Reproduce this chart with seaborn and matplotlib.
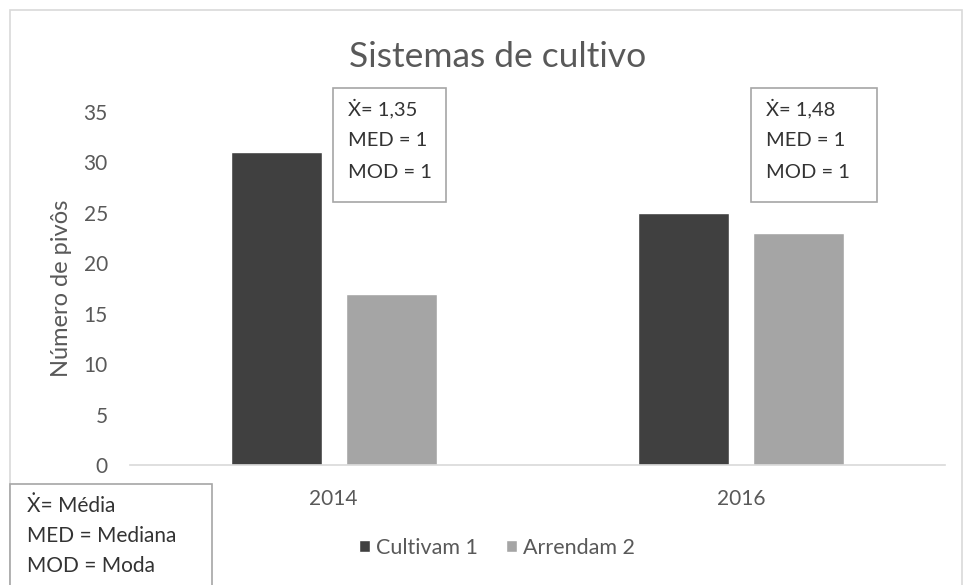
import matplotlib
matplotlib.use("Agg")
import matplotlib.pyplot as plt
from matplotlib.patches import Rectangle
import seaborn as sns
import pandas as pd

# ---- data ----
years = ["2014", "2016"]
series = ["Cultivam 1", "Arrendam 2"]
cultivam = [31, 25]
arrendam = [17, 23]
yticks = [0, 5, 10, 15, 20, 25, 30, 35]
title = "Sistemas de cultivo"
ylabel = "Número de pivôs"
stats_2014 = ["Ẋ= 1,35", "MED = 1", "MOD = 1"]
stats_2016 = ["Ẋ= 1,48", "MED = 1", "MOD = 1"]
key_lines = ["Ẋ= Média", "MED = Mediana", "MOD = Moda"]

df = pd.DataFrame({
    "Ano": years * 2,
    "Série": [series[0]] * 2 + [series[1]] * 2,
    "Valor": cultivam + arrendam,
})

sns.set_theme(style="white")
plt.rcParams["font.family"] = ["Lato", "DejaVu Sans"]
TXT = "#595959"
BOXTXT = "#333333"

W, H = 965, 585
fig = plt.figure(figsize=(W / 100, H / 100), dpi=100)
fig.patch.set_facecolor("white")


def fx(x):
    return x / W


def fy(y):
    return 1 - y / H


# axes area in pixels: left 130, right 945, top 112, bottom 465
ax = fig.add_axes([fx(130), fy(465), fx(945 - 130), (465 - 112) / H])
sns.barplot(data=df, x="Ano", y="Valor", hue="Série", order=years,
            hue_order=series, palette=["#404040", "#a5a5a5"],
            width=0.564, gap=0.209, ax=ax, legend=True, saturation=1)

ax.set_xlim(-0.5, 1.5)
ax.set_ylim(0, 35)
ax.set_yticks(yticks)
ax.set_xlabel("")
ax.set_ylabel(ylabel, fontsize=17, color=TXT, labelpad=8)
ax.tick_params(axis="y", length=0, pad=16, labelsize=15, labelcolor=TXT)
ax.tick_params(axis="x", length=0, pad=17, labelsize=15, labelcolor=TXT)
for s in ["top", "right", "left"]:
    ax.spines[s].set_visible(False)
ax.spines["bottom"].set_color("#d9d9d9")
ax.spines["bottom"].set_linewidth(1.2)

handles, labels = ax.get_legend_handles_labels()
ax.get_legend().remove()
fig.legend(handles, labels, loc="center", bbox_to_anchor=(fx(497), fy(548)),
           ncol=2, frameon=False, fontsize=15.5, labelcolor=TXT,
           handlelength=0.5, handleheight=0.5, handletextpad=0.3,
           columnspacing=1.3)

# title
fig.text(fx(498), fy(57), title, ha="center", va="center", fontsize=25.5,
         color=TXT)

# outer chart frame
fig.patches.append(Rectangle((fx(10), fy(590)), fx(952), (590 - 10) / H,
                             transform=fig.transFigure, fill=False,
                             edgecolor="#d9d9d9", linewidth=1.2))


def stat_box(x0, y0, x1, y1, lines, tx, ty0, dy, fs):
    fig.patches.append(Rectangle((fx(x0), fy(y1)), fx(x1 - x0), (y1 - y0) / H,
                                 transform=fig.transFigure, facecolor="white",
                                 edgecolor="#a6a6a6", linewidth=1.2,
                                 zorder=5))
    for i, t in enumerate(lines):
        fig.text(fx(tx), fy(ty0 + i * dy), t, ha="left", va="center",
                 fontsize=fs, color=BOXTXT, zorder=6)


stat_box(333, 88, 446, 202, stats_2014, 348, 108, 32, 14.5)
stat_box(751, 88, 877, 202, stats_2016, 766, 108, 32, 14.5)
stat_box(10, 484, 212, 600, key_lines, 27, 506, 30, 15)

fig.savefig("out.png", dpi=100, facecolor="white")
